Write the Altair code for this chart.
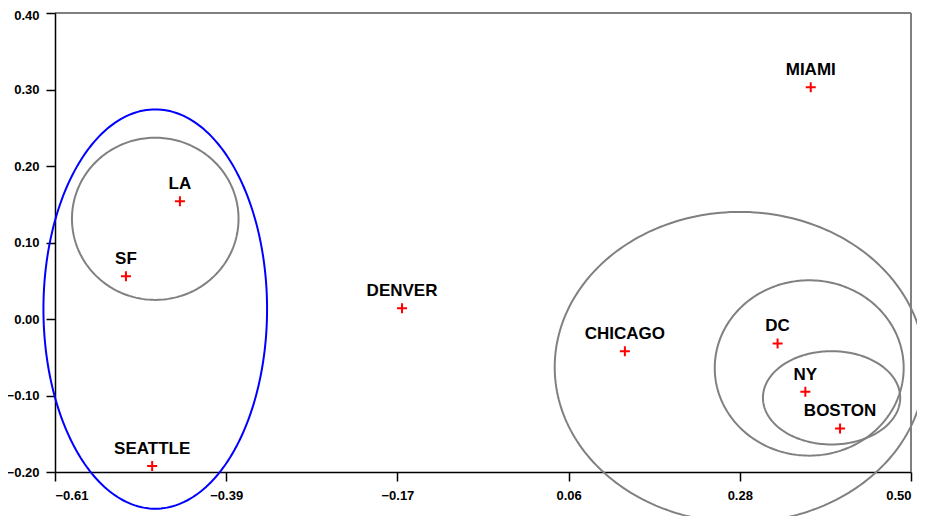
import altair as alt
import numpy as np
import pandas as pd

# City points
cities = ["MIAMI", "LA", "SF", "SEATTLE", "DENVER", "CHICAGO", "DC", "NY", "BOSTON"]
xs = [0.370, -0.448, -0.518, -0.484, -0.160, 0.129, 0.327, 0.363, 0.408]
ys = [0.303, 0.154, 0.056, -0.192, 0.014, -0.042, -0.032, -0.095, -0.143]

# Ellipses (cluster outlines)
ell_names = ["west", "west_core", "east", "east_mid", "east_core"]
ell_cx = [-0.480, -0.480, 0.278, 0.368, 0.397]
ell_cy = [0.013, 0.131, -0.063, -0.064, -0.103]
ell_rx = [0.145, 0.108, 0.240, 0.1225, 0.089]
ell_ry = [0.261, 0.106, 0.203, 0.1146, 0.061]
ell_colors = ["#0000ff", "#808080", "#808080", "#808080", "#808080"]

x_ticks = [-0.61, -0.388, -0.166, 0.056, 0.278, 0.50]
y_ticks = [-0.2, -0.1, 0.0, 0.1, 0.2, 0.3, 0.4]
x_domain = [-0.61, 0.50]
y_domain = [-0.20, 0.40]

pts = pd.DataFrame({"city": cities, "x": xs, "y": ys})

rows = []
t = np.linspace(0, 2 * np.pi, 241)
for n, cx, cy, rx, ry in zip(ell_names, ell_cx, ell_cy, ell_rx, ell_ry):
    for i, a in enumerate(t):
        rows.append({"ell": n, "i": i, "x": cx + rx * np.cos(a), "y": cy + ry * np.sin(a)})
ell = pd.DataFrame(rows)

FONT = "Liberation Sans"
W, H = 856, 459

xscale = alt.Scale(domain=x_domain, nice=False, zero=False)
yscale = alt.Scale(domain=y_domain, nice=False, zero=False)

axis_style = dict(
    title=None, grid=False, domainColor="black", domainWidth=1.5, tickColor="black", tickWidth=1.5,
    tickSize=9, labelFont=FONT, labelFontSize=13, labelFontWeight="bold", labelColor="black",
)
xaxis = alt.Axis(values=x_ticks, format=".2f", labelPadding=8, **axis_style)
yaxis = alt.Axis(
    values=y_ticks, format=".2f", labelPadding=7,
    labelOffset={"condition": {"test": "datum.value >= 0.39", "value": 2}, "value": 0},
    **axis_style,
)

ellipses = alt.Chart(ell).mark_line(strokeWidth=2, clip=False).encode(
    x=alt.X("x:Q", scale=xscale, axis=xaxis),
    y=alt.Y("y:Q", scale=yscale, axis=yaxis),
    detail="ell:N",
    order="i:Q",
    color=alt.Color("ell:N", scale=alt.Scale(domain=ell_names, range=ell_colors), legend=None),
)

marks = alt.Chart(pts).mark_point(
    shape="M-1,0L1,0M0,-1L0,1", size=100, filled=False, stroke="#ff0000", strokeWidth=2, opacity=1
).encode(x=alt.X("x:Q", scale=xscale), y=alt.Y("y:Q", scale=yscale))

labels = alt.Chart(pts).mark_text(
    font=FONT, fontSize=17, fontWeight="bold", color="black", align="center", baseline="alphabetic", dy=-12
).encode(x=alt.X("x:Q", scale=xscale), y=alt.Y("y:Q", scale=yscale), text="city:N")

frame_df = pd.DataFrame({"k": [0]})
top_rule = alt.Chart(frame_df).mark_rule(color="black", strokeWidth=1).encode(
    x=alt.datum(x_domain[0], scale=xscale), x2=alt.datum(x_domain[1]), y=alt.datum(y_domain[1], scale=yscale)
)
right_rule = alt.Chart(frame_df).mark_rule(color="#808080", strokeWidth=2).encode(
    x=alt.datum(x_domain[1], scale=xscale), y=alt.datum(y_domain[0], scale=yscale), y2=alt.datum(y_domain[1])
)

chart = alt.layer(ellipses, top_rule, right_rule, marks, labels).properties(
    width=W, height=H,
    background="white",
    autosize=alt.AutoSizeParams(type="none"),
    padding={"left": 47, "top": 5, "right": 6, "bottom": 44},
).configure_view(stroke=None)

chart.save("out.html", embed_options={"renderer": "svg", "actions": False})
